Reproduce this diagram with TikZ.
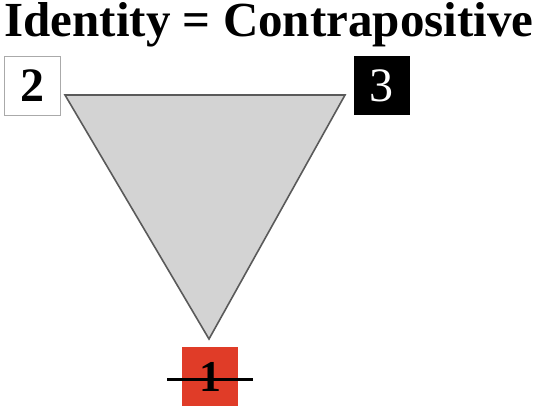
\documentclass[tikz,border=0pt]{standalone}
\usepackage{fontspec}
\setmainfont{Liberation Serif}
\usepackage{tikz}
\usetikzlibrary{positioning}

\begin{document}
\begin{tikzpicture}[
x=1pt,y=1pt,
numbox/.style={minimum width=56pt,minimum height=59pt,inner sep=0pt,font=\fontsize{48}{48}\selectfont},
titletext/.style={font=\fontsize{49}{49}\selectfont\bfseries,inner sep=0pt,anchor=base,text height=35pt,text depth=10pt},
]
\useasboundingbox (0,0) rectangle (537,-409);
\node[titletext] (title) at (269,-36.5) {Identity = Contrapositive};

\coordinate (a) at (65,-95);
\coordinate (b) at (345,-95);
\coordinate (c) at (209,-339);
\draw[fill={rgb,255:red,211;green,211;blue,211},draw={rgb,255:red,90;green,90;blue,90},line width=1.6pt] (a) -- (b) -- (c) -- cycle;

\node[numbox,fill=white,draw={rgb,255:red,170;green,170;blue,170},line width=0.8pt,font=\fontsize{48}{48}\selectfont\bfseries] (two) at (32,-85.5) {2};
\node[numbox,fill=black,text=white] (three) at (381.5,-85.5) {3};
\node[numbox,fill={rgb,255:red,224;green,60;blue,40},font=\fontsize{44}{44}\selectfont\bfseries] (one) at (210,-376.5) {1};

\coordinate (s1) at (167,-379);
\coordinate (s2) at (253,-379);
\draw[line width=3pt] (s1) -- (s2);
\end{tikzpicture}
\end{document}
